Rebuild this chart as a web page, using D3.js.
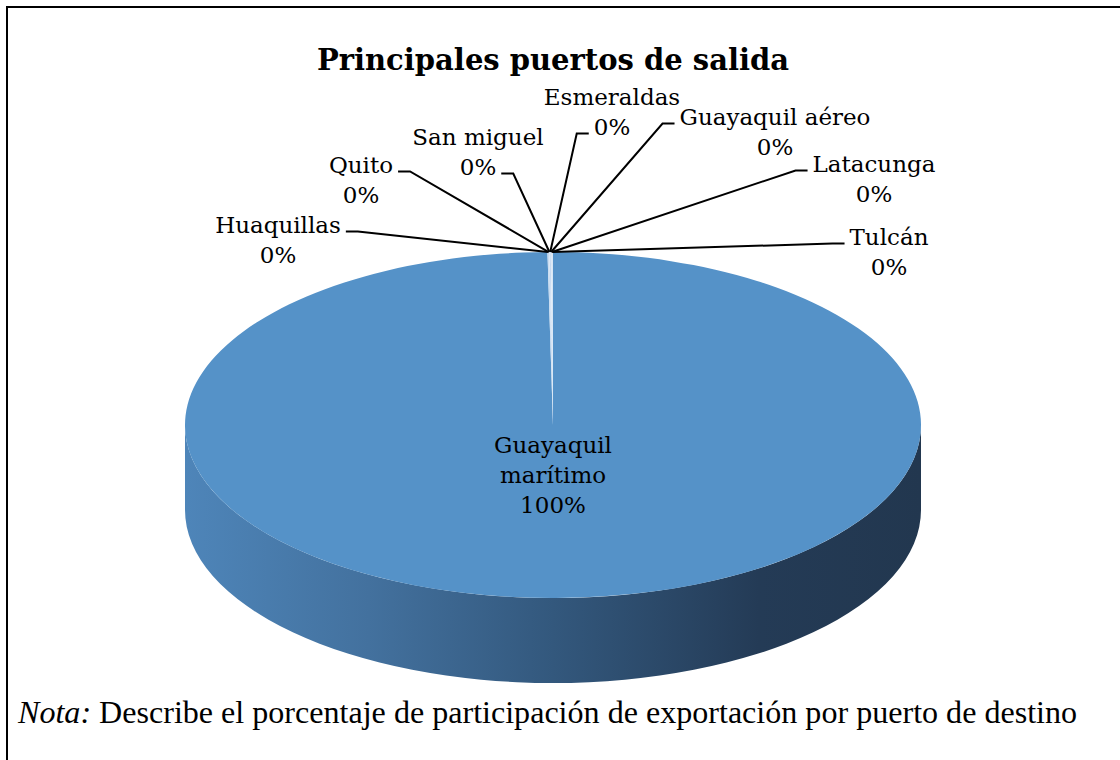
<!DOCTYPE html>
<html>
<head>
<meta charset="utf-8">
<script src="https://cdn.jsdelivr.net/npm/d3@7"></script>
<style>
  body { margin: 0; background: #fff; }
  svg { display: block; }
</style>
</head>
<body>
<div id="chart"></div>
<script>
// data
const ports = ["Guayaquil marítimo", "Huaquillas", "Quito", "San miguel", "Esmeraldas", "Guayaquil aéreo", "Latacunga", "Tulcán"];
const shares = [99.76, 0.04, 0.03, 0.03, 0.04, 0.04, 0.03, 0.03];
const sliceColors = ["#5592c8", "#c9dcf0", "#aac7e7", "#d9e6f4", "#b8d0ec", "#e3edf8", "#bcd3ec", "#d0e1f3"];

// label placement (center x, first baseline, which line the leader attaches to, side)
const labelLayout = [
  { x: 553, y: 453, wrap: true,  line: null, side: null },
  { x: 278, y: 233, wrap: false, line: 0, side: "right" },
  { x: 361, y: 173, wrap: false, line: 0, side: "right" },
  { x: 478, y: 145, wrap: false, line: 1, side: "right" },
  { x: 612, y: 105, wrap: false, line: 1, side: "left" },
  { x: 775, y: 125, wrap: false, line: 0, side: "left" },
  { x: 874, y: 172, wrap: false, line: 0, side: "left" },
  { x: 889, y: 245, wrap: false, line: 0, side: "left" }
];

const width = 1120, height = 760;
const cx = 553, cy = 425, rx = 368, ry = 173, depth = 85;
const lineH = 30;

const svg = d3.select("#chart").append("svg")
  .attr("width", width)
  .attr("height", height);

// frame
svg.append("rect")
  .attr("x", 7).attr("y", 7)
  .attr("width", 1300).attr("height", 900)
  .attr("fill", "none")
  .attr("stroke", "#000")
  .attr("stroke-width", 2);

const defs = svg.append("defs");
const grad = defs.append("linearGradient")
  .attr("id", "side")
  .attr("gradientUnits", "userSpaceOnUse")
  .attr("x1", cx - rx).attr("x2", cx + rx)
  .attr("y1", 0).attr("y2", 0);
grad.append("stop").attr("offset", "0%").attr("stop-color", "#4e85b9");
grad.append("stop").attr("offset", "25%").attr("stop-color", "#43719e");
grad.append("stop").attr("offset", "50%").attr("stop-color", "#33587d");
grad.append("stop").attr("offset", "78%").attr("stop-color", "#243b56");
grad.append("stop").attr("offset", "100%").attr("stop-color", "#22374f");

const pie = d3.pie().sort(null).value(d => d)(shares);

// angle 0 at 12 o'clock, clockwise
const px = a => cx + rx * Math.sin(a);
const py = a => cy - ry * Math.cos(a);

function sidePath(a0, a1) {
  const s = Math.max(a0, Math.PI / 2), e = Math.min(a1, 3 * Math.PI / 2);
  if (e <= s) return null;
  const large = e - s > Math.PI ? 1 : 0;
  return `M${px(s)},${py(s)} A${rx},${ry} 0 ${large} 1 ${px(e)},${py(e)}` +
    ` L${px(e)},${py(e) + depth} A${rx},${ry} 0 ${large} 0 ${px(s)},${py(s) + depth} Z`;
}

function topPath(a0, a1) {
  const large = a1 - a0 > Math.PI ? 1 : 0;
  return `M${cx},${cy} L${px(a0)},${py(a0)} A${rx},${ry} 0 ${large} 1 ${px(a1)},${py(a1)} Z`;
}

const plot = svg.append("g");

plot.selectAll("path.side")
  .data(pie.filter(d => sidePath(d.startAngle, d.endAngle)))
  .join("path")
  .attr("class", "side")
  .attr("d", d => sidePath(d.startAngle, d.endAngle))
  .attr("fill", "url(#side)");

plot.selectAll("path.top")
  .data(pie)
  .join("path")
  .attr("class", "top")
  .attr("d", d => topPath(d.startAngle, d.endAngle))
  .attr("fill", (d, i) => sliceColors[i]);

// labels
const fmt = v => Math.round(v / d3.sum(shares) * 100) + "%";
const labelG = svg.append("g")
  .attr("font-family", "'DejaVu Serif', serif")
  .attr("font-size", 23)
  .attr("fill", "#000");

pie.forEach((d, i) => {
  const lay = labelLayout[i];
  const lines = lay.wrap ? ports[i].split(" ") : [ports[i]];
  lines.push(fmt(d.value));
  const texts = lines.map((t, k) => labelG.append("text")
    .attr("x", lay.x)
    .attr("y", lay.y + k * lineH)
    .attr("text-anchor", "middle")
    .text(t));

  if (lay.line === null) return;
  const t = texts[lay.line].node();
  const w = t.getComputedTextLength();
  const ay = lay.y + lay.line * lineH - 1.5;
  const mid = (d.startAngle + d.endAngle) / 2;
  let x1, x2;
  if (lay.side === "right") { x1 = lay.x + w / 2 + 5; x2 = x1 + 12; }
  else { x1 = lay.x - w / 2 - 5; x2 = x1 - 12; }
  svg.append("path")
    .attr("d", `M${x1},${ay} L${x2},${ay} L${px(mid)},${py(mid)}`)
    .attr("fill", "none")
    .attr("stroke", "#000")
    .attr("stroke-width", 2);
});

// title
svg.append("text")
  .attr("x", cx)
  .attr("y", 70)
  .attr("text-anchor", "middle")
  .attr("font-family", "'DejaVu Serif', serif")
  .attr("font-weight", "bold")
  .attr("font-size", 29)
  .text("Principales puertos de salida");

// note
const note = svg.append("text")
  .attr("x", 18)
  .attr("y", 723)
  .attr("font-family", "'Liberation Serif', 'Times New Roman', serif")
  .attr("font-size", 32.1);
note.append("tspan").attr("font-style", "italic").text("Nota:");
note.append("tspan").text(" Describe el porcentaje de participación de exportación por puerto de destino");
</script>
</body>
</html>
